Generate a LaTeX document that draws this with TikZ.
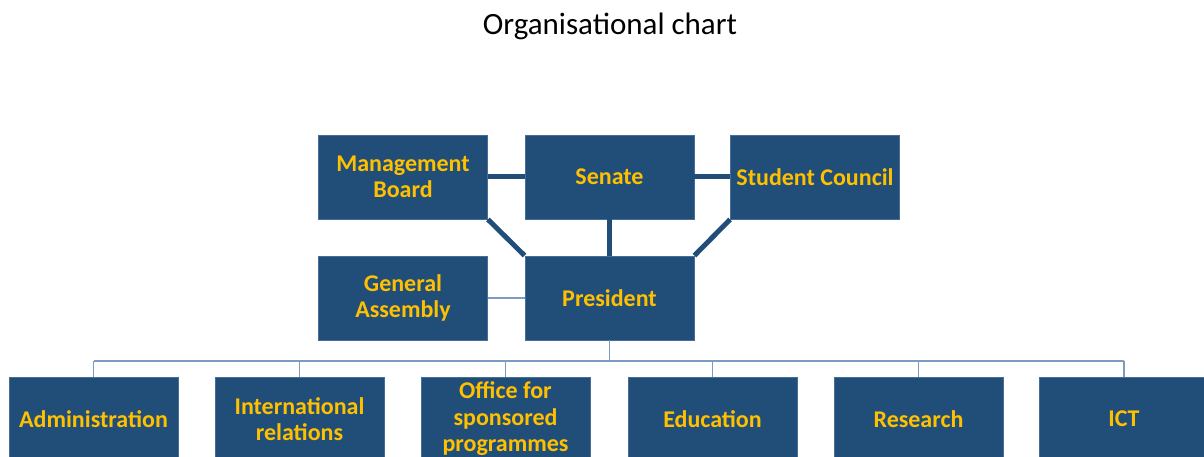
\documentclass[tikz,border=0pt]{standalone}
\usepackage{fontspec}
\setmainfont{Carlito}
\definecolor{boxblue}{RGB}{32,78,121}
\definecolor{boxedge}{RGB}{70,110,150}
\definecolor{gold}{RGB}{255,192,0}
\definecolor{thinline}{RGB}{125,155,190}
\begin{document}
\begin{tikzpicture}[x=1pt,y=-1pt,
  unit/.style={rectangle, fill=boxblue, draw=boxedge, line width=0.8pt,
    minimum width=169pt, minimum height=84pt, inner sep=0pt, align=center,
    text=gold, font=\fontsize{24}{26.5}\selectfont\bfseries},
  strong/.style={draw=boxblue, line width=5pt},
  weak/.style={draw=thinline, line width=1.4pt}]
\useasboundingbox (0,0) rectangle (1204,457);
\clip (0,0) rectangle (1204,457);
\node[font=\fontsize{31}{36}\selectfont] (title) at (610,26) {Organisational chart};
% upper nodes
\node[unit] (mb) at (403,177) {Management\\Board};
\node[unit] (sen) at (609.5,177) {Senate};
\node[unit] (sc) at (815,177) {Student Council};
\node[unit] (ga) at (403,298) {General\\Assembly};
\node[unit] (pres) at (609.5,298) {President};
% lower nodes
\node[unit] (adm) at (93.5,419) {Administration};
\node[unit] (ir) at (299.5,419) {International\\relations};
\node[unit] (osp) at (505.5,419) {Office for\\sponsored\\programmes};
\node[unit] (edu) at (712.5,419) {Education};
\node[unit] (res) at (918.5,419) {Research};
\node[unit] (ict) at (1124,419) {ICT};
% strong connectors
\draw[strong] (mb.east) -- (sen.west);
\draw[strong] (sen.east) -- (sc.west);
\draw[strong] (sen.south) -- (pres.north);
\draw[strong] (mb.south east) -- (pres.north west);
\draw[strong] (sc.south west) -- (pres.north east);
% weak connectors
\draw[weak] (ga.east) -- (pres.west);
\coordinate (bus) at (609.5,361);
\draw[weak] (pres.south) -- (bus);
\draw[weak] (bus -| adm.north) -- (bus -| ict.north);
\foreach \n in {adm,ir,osp,edu,res,ict}
  \draw[weak] (bus -| \n.north) -- (\n.north);
\end{tikzpicture}
\end{document}
